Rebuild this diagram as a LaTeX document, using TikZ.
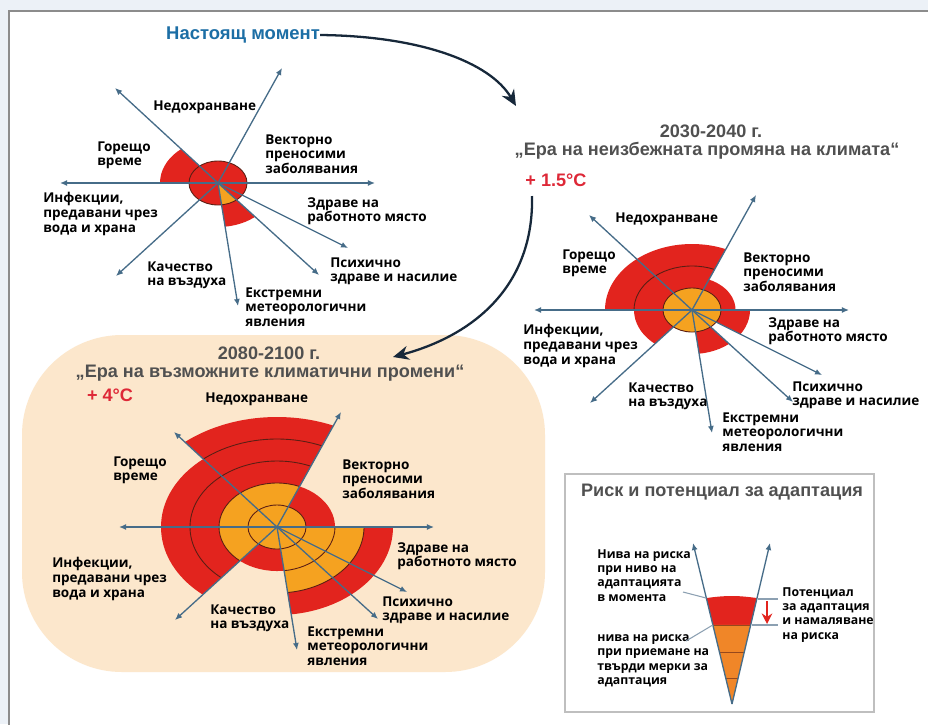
\documentclass[tikz,border=0pt]{standalone}
\usepackage{fontspec}
\setmainfont{Open Sans}
\newfontfamily\headfont{Liberation Sans}
\usetikzlibrary{arrows.meta,calc}

\definecolor{riskred}{RGB}{226,36,30}
\definecolor{riskorange}{RGB}{245,162,32}
\definecolor{coneorange}{RGB}{240,134,40}
\definecolor{axisblue}{RGB}{70,108,136}
\definecolor{ringbrown}{RGB}{90,30,20}
\definecolor{headgray}{RGB}{80,80,80}
\definecolor{nowblue}{RGB}{28,110,165}
\definecolor{tempred}{RGB}{222,40,55}
\definecolor{blobpeach}{RGB}{252,231,204}
\definecolor{framegray}{RGB}{140,140,140}
\definecolor{leadgray}{RGB}{140,160,178}
\definecolor{navy}{RGB}{23,40,58}
\definecolor{outside}{RGB}{236,241,247}

\newcommand\lblfont{\bfseries\fontsize{7.7}{8.4}\selectfont}
\newcommand\keyfont{\bfseries\fontsize{7}{8.2}\selectfont}
\newcommand\headfnt{\headfont\bfseries\fontsize{10.3}{12}\selectfont}

\newcommand\sektor[6]{%
 \begin{scope}
  \clip (#1) -- ($(#1)!3!(#1-#2)$) -- ($(#1)!3!(#1-#3)$) -- cycle;
  \fill[riskred] (#1) ellipse[x radius=29*#4,y radius=22*#4];
  \ifdim#5pt>0pt \fill[riskorange] (#1) ellipse[x radius=29*#5,y radius=22*#5];\fi
  \edef\ringlist{#6}%
  \foreach \k in \ringlist \draw[ringline] (#1) ellipse[x radius=29*\k,y radius=22*\k];
 \end{scope}}

\begin{document}
\begin{tikzpicture}[x=0.02cm,y=0.02cm,
 spoke/.style={draw=axisblue,line width=0.75pt,-{Latex[length=4pt,width=3.4pt]}},
 ringline/.style={draw=ringbrown,line width=0.5pt},
 lbl/.style={anchor=north west,align=left,inner sep=0pt,font=\lblfont},
 key/.style={anchor=north west,align=left,inner sep=0pt,font=\keyfont},
 head/.style={inner sep=0pt,text=headgray,font=\headfnt},
 temp/.style={inner sep=0pt,text=tempred,font=\headfnt},
 era/.style={draw=navy,line width=1.3pt,-{Stealth[length=9pt,width=8pt]}},
 leader/.style={draw=leadgray,line width=0.6pt},
 coneline/.style={draw=ringbrown!60!coneorange,line width=0.5pt},
 keybox/.style={draw=black!25,line width=0.8pt,fill=white}]
 \useasboundingbox (0,0) rectangle (928,-724);
 \clip (0,0) rectangle (928,-724);
 \fill[outside] (0,0) rectangle (928,-724);
 \draw[framegray,line width=1.2pt,fill=white] (9,-11) rectangle (960,-760);
 \fill[blobpeach,rounded corners=2cm] (22,-335) rectangle (545,-672);

 \coordinate (c1) at (218,-183);
 \coordinate (c2) at (692,-310);
 \coordinate (c3) at (277,-527);
 \foreach \c in {c1,c2,c3}{
  \foreach \n/\dx/\dy in {a/-103/95,b/64/115,c/157/0,d/-158/0,e/-102/-93,f/20/-123,g/101/-92,h/130/-65}
   \coordinate (\c-\n) at ($(\c)+(\dx,\dy)$);
 }

 \foreach \p/\q/\r/\o/\l in {c/b/1/0/1,b/a/1/0/1,a/d/2/0/1,d/e/1/0/1,e/f/1/0/1,f/g/2/1/1,g/h/1/0/1,h/c/1/0/1}
  {\sektor{c1}{\p}{\q}{\r}{\o}{\l}}
 \foreach \p/\q/\r/\o/\l in {c/b/1.5/1/1,b/a/3/1/{1,2},a/d/3/1/{1,2},d/e/2/1/1,e/f/1/1/1,f/g/2/1/1,g/h/1/1/1,h/c/2/1/1}
  {\sektor{c2}{\p}{\q}{\r}{\o}{\l}}
 \foreach \p/\q/\r/\o/\l in {c/b/2/1/1,b/a/5/2/{1,2,3,4},a/d/4/2/{1,2,3},d/e/4/2/{1,2,3},e/f/2/1/1,f/g/4/3/{1,2,3},g/h/4/3/{1,2,3},h/c/4/3/{1,2,3}}
  {\sektor{c3}{\p}{\q}{\r}{\o}{\l}}

 \foreach \c in {c1,c2,c3}
  \foreach \n in {a,b,c,d,e,f,g,h}
   \draw[spoke] (\c) -- (\c-\n);

 \node[lbl] (n1) at (153,-100) {Недохранване};
 \node[lbl] (h1) at (97,-141) {Горещо\\време};
 \node[lbl] (v1) at (265,-134) {Векторно\\преносими\\заболявания};
 \node[lbl] (i1) at (43,-192) {Инфекции,\\предавани чрез\\вода и храна};
 \node[lbl] (w1) at (307,-197) {Здраве на\\работното място};
 \node[lbl] (q1) at (147,-261) {Качество\\на въздуха};
 \node[lbl] (p1) at (330,-257) {Психично\\здраве и насилие};
 \node[lbl] (e1) at (245,-287) {Екстремни\\метеорологични\\явления};

 \node[lbl] (n2) at (615,-212) {Недохранване};
 \node[lbl] (h2) at (562,-249) {Горещо\\време};
 \node[lbl] (v2) at (743,-252) {Векторно\\преносими\\заболявания};
 \node[lbl] (i2) at (523,-324) {Инфекции,\\предавани чрез\\вода и храна};
 \node[lbl] (w2) at (768,-317) {Здраве на\\работното място};
 \node[lbl] (q2) at (628,-382) {Качество\\на въздуха};
 \node[lbl] (p2) at (792,-381) {Психично\\здраве и насилие};
 \node[lbl] (e2) at (722,-412) {Екстремни\\метеорологични\\явления};

 \node[lbl] (n3) at (205,-392) {Недохранване};
 \node[lbl] (h3) at (113,-456) {Горещо\\време};
 \node[lbl] (v3) at (342,-459) {Векторно\\преносими\\заболявания};
 \node[lbl] (i3) at (52,-557) {Инфекции,\\предавани чрез\\вода и храна};
 \node[lbl] (w3) at (397,-542) {Здраве на\\работното място};
 \node[lbl] (q3) at (210,-604) {Качество\\на въздуха};
 \node[lbl] (p3) at (382,-596) {Психично\\здраве и насилие};
 \node[lbl] (e3) at (307,-626) {Екстремни\\метеорологични\\явления};

 \node[inner sep=0pt,text=nowblue,font=\headfont\bfseries\fontsize{10.5}{12}\selectfont] (now) at (243,-35) {Настоящ момент};
 \node[head] (y2) at (711,-131) {2030-2040 г.};
 \node[head] (era2) at (707,-151) {„Ера на неизбежната промяна на климата“};
 \node[temp] (t2) at (556,-180) {+ 1.5°C};
 \node[head] (y3) at (269,-353) {2080-2100 г.};
 \node[head] (era3) at (270,-373) {„Ера на възможните климатични промени“};
 \node[temp] (t3) at (110,-395) {+ 4°C};

 \coordinate (nowEnd) at (516,-106);
 \coordinate (midStart) at (532,-196);
 \coordinate (midEnd) at (393,-357);
 \draw[era] (now.east) .. controls (420,-36) and (490,-62) .. (nowEnd);
 \draw[era] (midStart) .. controls (534,-285) and (475,-335) .. (midEnd);

 \draw[keybox] (565,-474) rectangle (874,-712);
 \node[head] (kt) at (722,-492) {Риск и потенциал за адаптация};
 \coordinate (apex) at (732,-704);
 \coordinate (tipL) at (693,-543);
 \coordinate (tipR) at (770,-543);
 \coordinate (redTL) at ($(apex)!.658!(tipL)$);
 \coordinate (redTR) at ($(apex)!.658!(tipR)$);
 \coordinate (redBL) at ($(apex)!.491!(tipL)$);
 \coordinate (redBR) at ($(apex)!.491!(tipR)$);
 \fill[riskred] (redBL) -- (redTL) to[bend left=8] (redTR) -- (redBR) -- cycle;
 \fill[coneorange] (redBL) -- (apex) -- (redBR) -- cycle;
 \foreach \t in {.491,.323,.161}
  \draw[coneline] ($(apex)!\t!(tipL)$) -- ($(apex)!\t!(tipR)$);
 \draw[spoke] (apex) -- (tipL);
 \draw[spoke] (apex) -- (tipR);

 \node[key] (cur) at (597,-549) {Нива на риска\\при ниво на\\адаптацията\\в момента};
 \node[key] (hard) at (597,-634) {нива на риска\\при приемане на\\твърди мерки за\\адаптация};
 \node[key] (pot) at (782,-587) {Потенциал\\за адаптация\\и намаляване\\на риска};
 \coordinate (curEnd) at (683,-592);
 \coordinate (hardEnd) at (686,-641);
 \draw[leader] (curEnd) -- (redTL);
 \draw[leader] (hardEnd) -- (redBL);
 \coordinate (tk1a) at (758,-599);
 \coordinate (tk1b) at (778,-599);
 \coordinate (tk2a) at (752,-625);
 \coordinate (tk2b) at (778,-625);
 \draw[leader] (tk1a) -- (tk1b);
 \draw[leader] (tk2a) -- (tk2b);
 \coordinate (ra) at (767,-601);
 \coordinate (rb) at (767,-624);
 \draw[draw=riskred,line width=1.6pt,-{Stealth[length=6pt,width=6pt]}] (ra) -- (rb);
\end{tikzpicture}
\end{document}
